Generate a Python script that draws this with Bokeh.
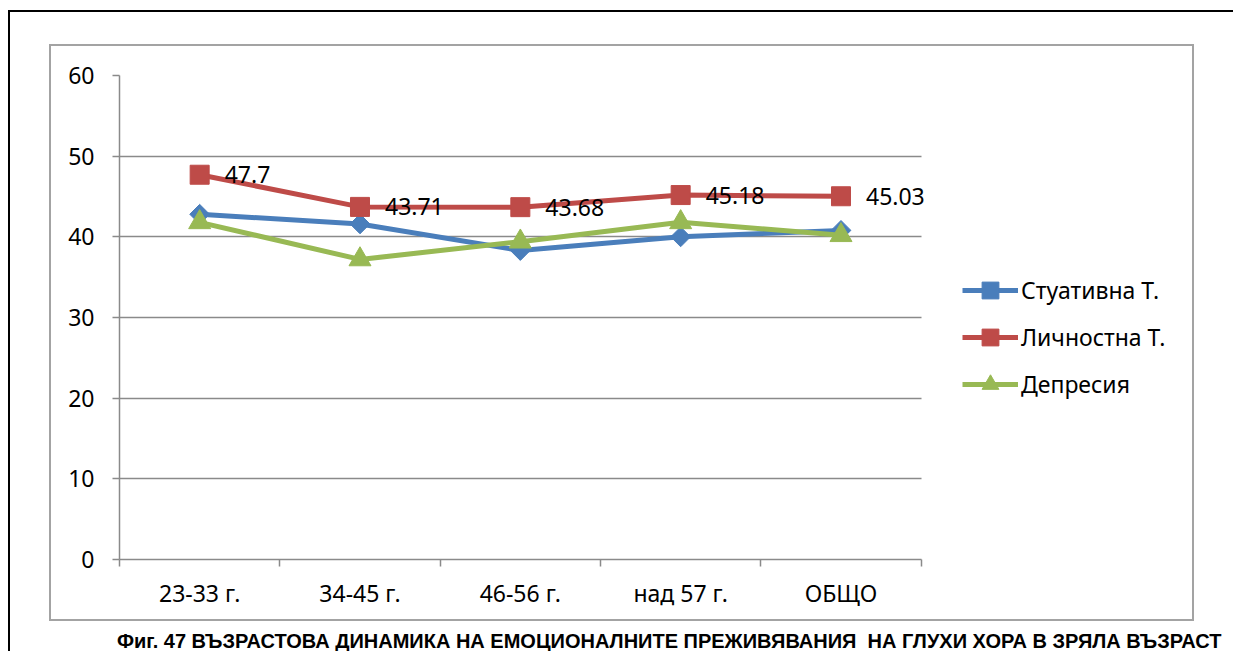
from bokeh.plotting import figure
from bokeh.models import (Range1d, FixedTicker, Legend, LegendItem, LabelSet,
                          ColumnDataSource, Div)
from bokeh.layouts import column
from bokeh.core.properties import value
from bokeh.embed import file_html
from bokeh.resources import INLINE
import numpy as np

# Age groups and mean scores per scale
categories = ["23-33 г.", "34-45 г.", "46-56 г.", "над 57 г.", "ОБЩО"]
stuativna = [42.8, 41.6, 38.3, 40.0, 40.8]
lichnostna = [47.7, 43.71, 43.68, 45.18, 45.03]
depresia = [41.8, 37.2, 39.4, 41.8, 40.2]
y_ticks = [0, 10, 20, 30, 40, 50, 60]
series_names = ["Стуативна Т.", "Личностна Т.", "Депресия"]
caption = "Фиг. 47 ВЪЗРАСТОВА ДИНАМИКА НА ЕМОЦИОНАЛНИТЕ ПРЕЖИВЯВАНИЯ&nbsp; НА ГЛУХИ ХОРА В ЗРЯЛА ВЪЗРАСТ"

FONT = "Noto Sans"
FS = "23px"
GRID = "#8a8a8a"
BLUE, RED, GREEN = "#4A7EBB", "#BE4B48", "#98B954"

n = len(categories)
xs = [i + 0.5 for i in range(n)]

# the frame runs on to the right so that the legend can sit inside it;
# grid and axis are bounded to the category span [0, n]
X_END = 6.63

p = figure(width=1141, height=573, output_backend="svg", toolbar_location=None,
           x_range=Range1d(0, X_END), y_range=Range1d(0, 60),
           min_border_left=68, min_border_right=10,
           min_border_top=29, min_border_bottom=60)
p.outline_line_color = None
p.background_fill_color = "white"
p.border_fill_color = "white"

# x axis: labels at category centres, ticks at category boundaries
xa = p.xaxis[0]
xa.bounds = (0, n)
xa.ticker = FixedTicker(ticks=xs, minor_ticks=list(range(n + 1)))
xa.major_label_overrides = {x: c for x, c in zip(xs, categories)}
xa.major_tick_out = 0
xa.major_tick_in = 0
xa.minor_tick_out = 7
xa.minor_tick_in = 0
xa.minor_tick_line_color = GRID
xa.minor_tick_line_width = 1.5
xa.axis_line_color = GRID
xa.axis_line_width = 1.5
xa.major_label_text_font = FONT
xa.major_label_text_font_size = FS
xa.major_label_text_color = "black"
xa.major_label_standoff = 10

ya = p.yaxis[0]
ya.ticker = FixedTicker(ticks=y_ticks)
ya.major_tick_out = 7
ya.major_tick_in = 0
ya.minor_tick_line_color = None
ya.major_tick_line_color = GRID
ya.major_tick_line_width = 1.5
ya.axis_line_color = GRID
ya.axis_line_width = 1.5
ya.major_label_text_font = FONT
ya.major_label_text_font_size = FS
ya.major_label_text_color = "black"
ya.major_label_standoff = 18

p.xgrid.grid_line_color = None
p.ygrid.ticker = FixedTicker(ticks=y_ticks)
p.ygrid.cross_bounds = (0, n)
p.ygrid.grid_line_color = GRID
p.ygrid.grid_line_width = 1.5

items = []
specs = [
    (stuativna, BLUE, dict(marker="square", size=14, angle=np.pi / 4)),
    (lichnostna, RED, dict(marker="square", size=19)),
    (depresia, GREEN, dict(marker="triangle", size=22)),
]
for name, (vals, col, mk) in zip(series_names, specs):
    src = ColumnDataSource(dict(x=xs, y=vals))
    ln = p.line("x", "y", source=src, line_color=col, line_width=5)
    sc = p.scatter("x", "y", source=src, fill_color=col, line_color=col, **mk)
    items.append(LegendItem(label=name, renderers=[ln, sc]))

# value labels for the trait anxiety series
lab_src = ColumnDataSource(dict(x=xs, y=lichnostna, t=[str(v) for v in lichnostna]))
p.add_layout(LabelSet(x="x", y="y", text="t", source=lab_src, x_offset=25, y_offset=0,
                      text_font=value(FONT), text_font_size=FS, text_color="black",
                      text_baseline="middle"))

legend = Legend(items=items, location=(843, 154), orientation="vertical",
                glyph_width=56, glyph_height=42, label_height=42, spacing=5,
                label_standoff=3, padding=0, margin=0,
                label_text_font=FONT, label_text_font_size=FS,
                label_text_color="black", border_line_color=None,
                background_fill_alpha=0)
p.add_layout(legend, "center")

# chart area with its grey frame
chart_area = column(p, styles={"border": "2px solid #a3a3a3"})

cap = Div(text=caption, margin=(6, 0, 0, 68),
          styles={"font-family": "Liberation Sans Narrow, Liberation Sans",
                  "font-weight": "bold", "font-size": "20px", "color": "black",
                  "white-space": "nowrap"})

# page with the black border on the left and top
page = column(chart_area, cap,
              styles={"margin-left": "8px", "margin-top": "10px",
                      "border-left": "2.5px solid black", "border-top": "2.5px solid black",
                      "padding-left": "39px", "padding-top": "31.5px",
                      "width": "1225px", "height": "641px", "box-sizing": "border-box",
                      "overflow": "hidden", "background": "white"})

open("out.html", "w").write(file_html(page, INLINE))
